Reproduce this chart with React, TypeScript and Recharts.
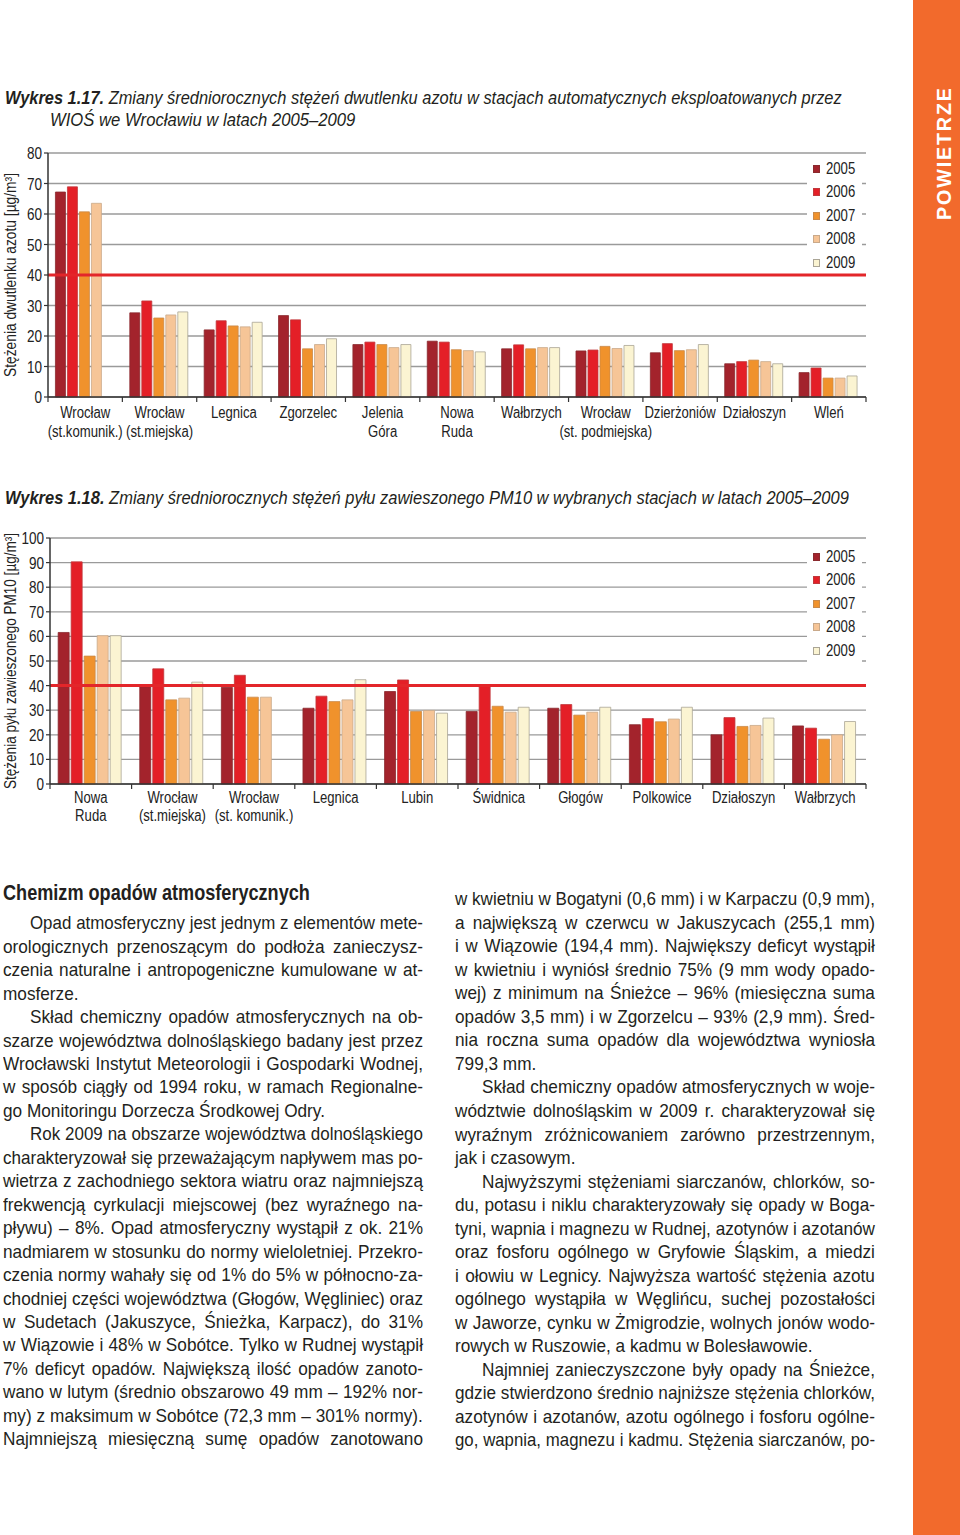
import React, { useLayoutEffect, useRef, useState } from 'react';
import { BarChart, Bar, XAxis, YAxis, CartesianGrid, ReferenceLine } from 'recharts';

const FONT = "'Liberation Sans', Arial, sans-serif";
const NARROW = 0.82;
const BODY_NARROW = 0.93;
const BODY_SIZE = 18.5;
const TEXT_COLOR = '#231F20';

const YEARS = ['2005', '2006', '2007', '2008', '2009'];
const YEAR_FILL = ['#A3232C', '#E41F27', '#F0922C', '#F6C597', '#FBF4D2'];
const YEAR_STROKE = ['#8a2a2e', '#c0393c', '#c98a4a', '#c9a98a', '#aaa596'];

// Wykres 1.17 – NO2
const NO2_STATIONS = [
  'Wrocław\n(st.komunik.)',
  'Wrocław\n(st.miejska)',
  'Legnica',
  'Zgorzelec',
  'Jelenia\nGóra',
  'Nowa\nRuda',
  'Wałbrzych',
  'Wrocław\n(st. podmiejska)',
  'Dzierżoniów',
  'Działoszyn',
  'Wleń',
];
const NO2_2005 = [67.2, 27.6, 22.0, 26.7, 17.2, 18.3, 15.8, 15.1, 14.5, 10.9, 8.0];
const NO2_2006 = [68.9, 31.5, 25.0, 25.3, 18.0, 18.0, 17.1, 15.4, 17.5, 11.6, 9.5];
const NO2_2007 = [60.7, 25.9, 23.3, 15.8, 17.2, 15.5, 15.8, 16.6, 15.2, 12.1, 6.2];
const NO2_2008 = [63.5, 26.9, 23.0, 17.2, 16.2, 15.2, 16.2, 15.9, 15.5, 11.6, 6.2];
const NO2_2009 = [null, 27.9, 24.5, 19.1, 17.2, 14.8, 16.2, 16.9, 17.2, 10.9, 6.9];
const NO2_TICKS = [0, 10, 20, 30, 40, 50, 60, 70, 80];
const NO2_LIMIT = 40;

// Wykres 1.18 – PM10
const PM10_STATIONS = [
  'Nowa\nRuda',
  'Wrocław\n(st.miejska)',
  'Wrocław\n(st. komunik.)',
  'Legnica',
  'Lubin',
  'Świdnica',
  'Głogów',
  'Polkowice',
  'Działoszyn',
  'Wałbrzych',
];
const PM10_2005 = [61.6, 39.6, 39.3, 30.8, 37.6, 29.5, 30.8, 24.1, 20.0, 23.6];
const PM10_2006 = [90.3, 46.8, 44.2, 35.7, 42.3, 40.2, 32.3, 26.6, 27.0, 22.7];
const PM10_2007 = [52.0, 34.2, 35.3, 33.5, 29.5, 31.6, 28.0, 25.3, 23.4, 18.2];
const PM10_2008 = [60.3, 34.9, 35.3, 34.2, 29.9, 29.2, 29.2, 26.4, 23.8, 20.0];
const PM10_2009 = [60.3, 41.4, null, 42.4, 28.8, 31.2, 31.2, 31.2, 26.8, 25.4];
const PM10_TICKS = [0, 10, 20, 30, 40, 50, 60, 70, 80, 90, 100];
const PM10_LIMIT = 40;

const LEFT_LINES = [
  'Opad atmosferyczny jest jednym z elementów mete-',
  'orologicznych przenoszącym do podłoża zanieczysz-',
  'czenia naturalne i antropogeniczne kumulowane w at-',
  'mosferze.',
  'Skład chemiczny opadów atmosferycznych na ob-',
  'szarze województwa dolnośląskiego badany jest przez',
  'Wrocławski Instytut Meteorologii i Gospodarki Wodnej,',
  'w sposób ciągły od 1994 roku, w ramach Regionalne-',
  'go Monitoringu Dorzecza Środkowej Odry.',
  'Rok 2009 na obszarze województwa dolnośląskiego',
  'charakteryzował się przeważającym napływem mas po-',
  'wietrza z zachodniego sektora wiatru oraz najmniejszą',
  'frekwencją cyrkulacji miejscowej (bez wyraźnego na-',
  'pływu) – 8%. Opad atmosferyczny wystąpił z ok. 21%',
  'nadmiarem w stosunku do normy wieloletniej. Przekro-',
  'czenia normy wahały się od 1% do 5% w północno-za-',
  'chodniej części województwa (Głogów, Węgliniec) oraz',
  'w Sudetach (Jakuszyce, Śnieżka, Karpacz), do 31%',
  'w Wiązowie i 48% w Sobótce. Tylko w Rudnej wystąpił',
  '7% deficyt opadów. Największą ilość opadów zanoto-',
  'wano w lutym (średnio obszarowo 49 mm – 192% nor-',
  'my) z maksimum w Sobótce (72,3 mm – 301% normy).',
  'Najmniejszą miesięczną sumę opadów zanotowano',
];
const LEFT_INDENT = [0, 4, 9];
const LEFT_LAST = [3, 8];

const RIGHT_LINES = [
  'w kwietniu w Bogatyni (0,6 mm) i w Karpaczu (0,9 mm),',
  'a największą w czerwcu w Jakuszycach (255,1 mm)',
  'i w Wiązowie (194,4 mm). Największy deficyt wystąpił',
  'w kwietniu i wyniósł średnio 75% (9 mm wody opado-',
  'wej) z minimum na Śnieżce – 96% (miesięczna suma',
  'opadów 3,5 mm) i w Zgorzelcu – 93% (2,9 mm). Śred-',
  'nia roczna suma opadów dla województwa wyniosła',
  '799,3 mm.',
  'Skład chemiczny opadów atmosferycznych w woje-',
  'wództwie dolnośląskim w 2009 r. charakteryzował się',
  'wyraźnym zróżnicowaniem zarówno przestrzennym,',
  'jak i czasowym.',
  'Najwyższymi stężeniami siarczanów, chlorków, so-',
  'du, potasu i niklu charakteryzowały się opady w Boga-',
  'tyni, wapnia i magnezu w Rudnej, azotynów i azotanów',
  'oraz fosforu ogólnego w Gryfowie Śląskim, a miedzi',
  'i ołowiu w Legnicy. Najwyższa wartość stężenia azotu',
  'ogólnego wystąpiła w Węglińcu, suchej pozostałości',
  'w Jaworze, cynku w Żmigrodzie, wolnych jonów wodo-',
  'rowych w Ruszowie, a kadmu w Bolesławowie.',
  'Najmniej zanieczyszczone były opady na Śnieżce,',
  'gdzie stwierdzono średnio najniższe stężenia chlorków,',
  'azotynów i azotanów, azotu ogólnego i fosforu ogólne-',
  'go, wapnia, magnezu i kadmu. Stężenia siarczanów, po-',
];
const RIGHT_INDENT = [8, 12, 20];
const RIGHT_LAST = [7, 11, 19];

function buildRows(cats: string[], series: (number | null)[][]) {
  return cats.map((c, i) => {
    const r: any = { cat: c };
    YEARS.forEach((y, j) => {
      r[y] = series[j][i];
    });
    return r;
  });
}

function FitText({ width, style, children }: { width: number; style?: any; children: any }) {
  const ref = useRef<HTMLSpanElement>(null);
  const [s, setS] = useState(NARROW);
  useLayoutEffect(() => {
    if (ref.current) {
      const w = ref.current.offsetWidth;
      if (w > 0) setS(width / w);
    }
  }, [width]);
  return (
    <span
      ref={ref}
      style={{
        display: 'inline-block',
        whiteSpace: 'nowrap',
        transform: `scaleX(${s})`,
        transformOrigin: 'left center',
        ...style,
      }}
    >
      {children}
    </span>
  );
}

function TextLine({
  text,
  left,
  top,
  width,
  lh,
  justify,
}: {
  text: string;
  left: number;
  top: number;
  width: number;
  lh: number;
  justify: boolean;
}) {
  const ref = useRef<HTMLSpanElement>(null);
  const [s, setS] = useState(BODY_NARROW);
  useLayoutEffect(() => {
    if (ref.current) {
      const w = ref.current.offsetWidth;
      if (w > 0) setS(Math.min(BODY_NARROW, (width - 1) / w));
    }
  }, [text, width]);
  const words = text.split(' ');
  return (
    <>
      <span
        ref={ref}
        style={{
          position: 'absolute',
          left: 0,
          top: 0,
          visibility: 'hidden',
          whiteSpace: 'nowrap',
          fontSize: BODY_SIZE,
          fontFamily: FONT,
        }}
      >
        {text}
      </span>
      <div
        style={{
          position: 'absolute',
          left,
          top,
          width: width / s,
          height: lh,
          lineHeight: `${lh}px`,
          fontSize: BODY_SIZE,
          fontFamily: FONT,
          color: TEXT_COLOR,
          display: 'flex',
          justifyContent: justify ? 'space-between' : 'flex-start',
          whiteSpace: 'nowrap',
          transform: `scaleX(${s})`,
          transformOrigin: 'left top',
        }}
      >
        {justify ? words.map((w, i) => <span key={i}>{w}</span>) : <span>{text}</span>}
      </div>
    </>
  );
}

const LegendBox = ({ left, top, height, padTop }: { left: number; top: number; height: number; padTop: number }) => (
  <div
    style={{
      position: 'absolute',
      left,
      top,
      background: '#fff',
      width: 55,
      height,
      boxSizing: 'border-box',
      paddingTop: padTop,
      overflow: 'visible',
      fontFamily: FONT,
    }}
  >
    {YEARS.map((y, i) => (
      <div key={y} style={{ display: 'flex', alignItems: 'center', height: 23.5 }}>
        <span
          style={{
            display: 'inline-block',
            width: 8,
            height: 8,
            boxSizing: 'border-box',
            background: YEAR_FILL[i],
            border: `1px solid ${YEAR_STROKE[i]}`,
            marginLeft: 6,
            marginRight: 6,
          }}
        />
        <span
          style={{
            display: 'inline-block',
            fontSize: 16,
            color: '#222',
            lineHeight: '16px',
            transform: `scaleX(${NARROW})`,
            transformOrigin: 'left center',
          }}
        >
          {y}
        </span>
      </div>
    ))}
  </div>
);

type ChartProps = {
  cats: string[];
  series: (number | null)[][];
  ticks: number[];
  limit: number;
  yLabel: string;
  yLabelLen: number;
  top: number;
  width: number;
  height: number;
  margin: { top: number; right: number; left: number; bottom: number };
  yAxisWidth: number;
  xAxisHeight: number;
  legendTop: number;
  legendHeight: number;
  legendPad: number;
  tickDy: number;
  tickLh: number;
};

function GroupedChart(p: ChartProps) {
  const data = buildRows(p.cats, p.series);
  const plotLeft = p.margin.left + p.yAxisWidth;
  const plotWidth = p.width - plotLeft - p.margin.right;
  const n = p.cats.length;
  const band = plotWidth / n;
  const yMax = p.ticks[p.ticks.length - 1];

  const CatTick = (props: any) => {
    const { x, y, payload, index } = props;
    const lines = String(payload.value).split('\n');
    const bx = x - band / 2;
    return (
      <g>
        <line x1={bx} x2={bx} y1={y} y2={y + 5} stroke="#333" strokeWidth={1.2} />
        {index === n - 1 && (
          <line x1={x + band / 2} x2={x + band / 2} y1={y} y2={y + 5} stroke="#333" strokeWidth={1.2} />
        )}
        <g transform={`translate(${x}, ${y + p.tickDy}) scale(${NARROW}, 1)`}>
          <text x={0} y={0} textAnchor="middle" fontSize={16} fill="#222" fontFamily={FONT}>
            {lines.map((l, k) => (
              <tspan key={k} x={0} dy={k === 0 ? 0 : p.tickLh}>
                {l}
              </tspan>
            ))}
          </text>
        </g>
      </g>
    );
  };

  const ValTick = (props: any) => {
    const { x, y, payload } = props;
    return (
      <g transform={`translate(${x}, ${y}) scale(${NARROW}, 1)`}>
        <text x={0} y={0} textAnchor="end" dominantBaseline="central" fontSize={16.5} fill="#222" fontFamily={FONT}>
          {payload.value}
        </text>
      </g>
    );
  };

  const YLabel = (props: any) => {
    const vb = props.viewBox || {};
    const cx = 10;
    const cy = (vb.y || 0) + (vb.height || 0) / 2;
    return (
      <text
        x={cx}
        y={cy}
        transform={`rotate(-90, ${cx}, ${cy})`}
        textAnchor="middle"
        dominantBaseline="central"
        fontSize={16}
        fill="#222"
        fontFamily={FONT}
        textLength={p.yLabelLen}
        lengthAdjust="spacingAndGlyphs"
      >
        {p.yLabel}
      </text>
    );
  };

  return (
    <div style={{ position: 'absolute', left: 0, top: p.top, width: p.width, height: p.height }}>
      <BarChart
        width={p.width}
        height={p.height}
        data={data}
        margin={p.margin}
        barCategoryGap="10%"
        barGap={2}
        style={{ fontFamily: FONT }}
      >
        <CartesianGrid vertical={false} stroke="#9a9a9a" strokeWidth={1.3} />
        <XAxis
          dataKey="cat"
          interval={0}
          height={p.xAxisHeight}
          tickSize={0}
          tickMargin={0}
          tickLine={false}
          axisLine={{ stroke: '#333', strokeWidth: 1.5 }}
          tick={<CatTick />}
        />
        <YAxis
          width={p.yAxisWidth}
          domain={[0, yMax]}
          ticks={p.ticks}
          interval={0}
          tickSize={4}
          tickMargin={2}
          axisLine={{ stroke: '#333', strokeWidth: 1.5 }}
          tickLine={{ stroke: '#333', strokeWidth: 1.2 }}
          tick={<ValTick />}
          label={<YLabel />}
        />
        <YAxis
          yAxisId="r"
          orientation="right"
          width={0}
          domain={[0, yMax]}
          tick={false}
          tickLine={false}
          axisLine={{ stroke: '#9a9a9a', strokeWidth: 1.3 }}
        />
        {YEARS.map((y, i) => (
          <Bar
            key={y}
            dataKey={y}
            fill={YEAR_FILL[i]}
            stroke={YEAR_STROKE[i]}
            strokeWidth={0.8}
            isAnimationActive={false}
          />
        ))}
        <ReferenceLine y={p.limit} stroke="#E3262A" strokeWidth={3} />
      </BarChart>
      <LegendBox left={807} top={p.legendTop} height={p.legendHeight} padTop={p.legendPad} />
    </div>
  );
}

function Column({
  lines,
  indent,
  last,
  left,
  top,
  lh,
}: {
  lines: string[];
  indent: number[];
  last: number[];
  left: number;
  top: number;
  lh: number;
}) {
  return (
    <>
      {lines.map((t, i) => {
        const isIndent = indent.includes(i);
        const ind = isIndent ? 27 : 0;
        return (
          <TextLine
            key={i}
            text={t}
            left={left + ind}
            top={top + i * lh}
            width={420 - ind}
            lh={lh}
            justify={!last.includes(i)}
          />
        );
      })}
    </>
  );
}

export default function App() {
  return (
    <div
      style={{
        position: 'absolute',
        left: 0,
        top: 0,
        width: 960,
        height: 1535,
        overflow: 'hidden',
        background: '#fff',
        fontFamily: FONT,
        color: TEXT_COLOR,
      }}
    >
      {/* side band */}
      <div style={{ position: 'absolute', left: 913, top: 0, width: 47, height: 1535, background: '#F26A2C' }} />
      <div
        style={{
          position: 'absolute',
          left: 944 - 66,
          top: 154 - 13,
          width: 132,
          height: 26,
          lineHeight: '26px',
          transform: 'rotate(-90deg)',
          color: '#fff',
          fontWeight: 700,
          fontSize: 21,
          fontFamily: FONT,
        }}
      >
        <FitText width={134} style={{ letterSpacing: 2 }}>
          POWIETRZE
        </FitText>
      </div>

      {/* Title 1.17 */}
      <div style={{ position: 'absolute', left: 5, top: 87, fontSize: 18.5, lineHeight: '22px', fontStyle: 'italic' }}>
        <FitText width={837}>
          <b>Wykres 1.17.</b> Zmiany średniorocznych stężeń dwutlenku azotu w stacjach automatycznych eksploatowanych przez
        </FitText>
      </div>
      <div style={{ position: 'absolute', left: 50, top: 109, fontSize: 18.5, lineHeight: '22px', fontStyle: 'italic' }}>
        <FitText width={305}>WIOŚ we Wrocławiu w latach 2005–2009</FitText>
      </div>

      <GroupedChart
        cats={NO2_STATIONS}
        series={[NO2_2005, NO2_2006, NO2_2007, NO2_2008, NO2_2009]}
        ticks={NO2_TICKS}
        limit={NO2_LIMIT}
        yLabel="Stężenia dwutlenku azotu [µg/m³]"
        yLabelLen={204}
        top={140}
        width={880}
        height={310}
        margin={{ top: 13, right: 14, left: 0, bottom: 8 }}
        yAxisWidth={48}
        xAxisHeight={45}
        legendTop={16}
        legendHeight={116}
        legendPad={1}
        tickDy={20.5}
        tickLh={20}
      />

      {/* Title 1.18 */}
      <div style={{ position: 'absolute', left: 5, top: 487, fontSize: 18.5, lineHeight: '22px', fontStyle: 'italic' }}>
        <FitText width={844}>
          <b>Wykres 1.18.</b> Zmiany średniorocznych stężeń pyłu zawieszonego PM10 w wybranych stacjach w latach 2005–2009
        </FitText>
      </div>

      <GroupedChart
        cats={PM10_STATIONS}
        series={[PM10_2005, PM10_2006, PM10_2007, PM10_2008, PM10_2009]}
        ticks={PM10_TICKS}
        limit={PM10_LIMIT}
        yLabel="Stężenia pyłu zawieszonego PM10 [µg/m³]"
        yLabelLen={256}
        top={525}
        width={880}
        height={312}
        margin={{ top: 13, right: 14, left: 0, bottom: 8 }}
        yAxisWidth={50}
        xAxisHeight={45}
        legendTop={20}
        legendHeight={119}
        legendPad={0}
        tickDy={18.5}
        tickLh={19}
      />

      {/* Text section */}
      <div
        style={{
          position: 'absolute',
          left: 3,
          top: 881,
          fontSize: 22,
          lineHeight: '24px',
          fontWeight: 700,
          fontFamily: FONT,
        }}
      >
        <FitText width={307}>Chemizm opadów atmosferycznych</FitText>
      </div>
      <Column lines={LEFT_LINES} indent={LEFT_INDENT} last={LEFT_LAST} left={3} top={911.3} lh={23.45} />
      <Column lines={RIGHT_LINES} indent={RIGHT_INDENT} last={RIGHT_LAST} left={455} top={887.3} lh={23.52} />
    </div>
  );
}
